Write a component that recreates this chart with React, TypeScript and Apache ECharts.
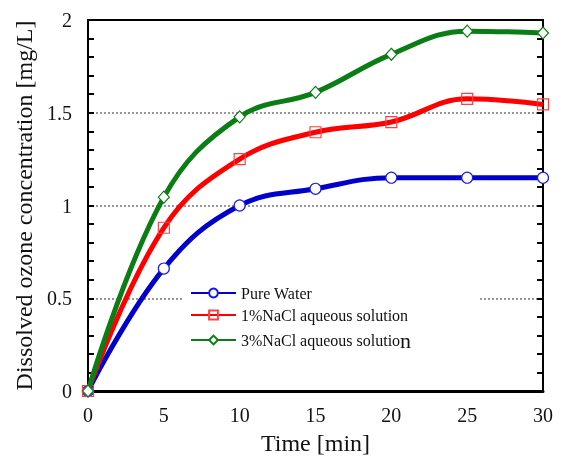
import React, { useEffect, useRef } from "react";
import * as echarts from "echarts";

const times = [0, 5, 10, 15, 20, 25, 30];
const pureWater = [0, 0.66, 1.0, 1.09, 1.15, 1.15, 1.15];
const nacl1 = [0, 0.88, 1.25, 1.395, 1.45, 1.575, 1.545];
const nacl3 = [0, 1.045, 1.478, 1.61, 1.815, 1.94, 1.93];
const seriesNames = ["Pure Water", "1%NaCl aqueous solution", "3%NaCl aqueous solution"];
const yTicks = [0, 0.5, 1, 1.5, 2];

const FONT = "Liberation Serif";

export default function App() {
  const ref = useRef<HTMLDivElement>(null);
  useEffect(() => {
    if (!ref.current) return;
    const chart = echarts.init(ref.current, null, { renderer: "svg" });
    const pairs = (vals: number[]) => times.map((t, i) => [t, vals[i]]);
    const makeY = (pos: string) => ({
      type: "value",
      position: pos,
      min: yTicks[0],
      max: yTicks[yTicks.length - 1],
      interval: 0.5,
      axisLine: { show: true, onZero: false, lineStyle: { color: "#000", width: 2 } },
      axisTick: { show: true, inside: true, length: 6, lineStyle: { color: "#000", width: 2 } },
      minorTick: { show: true, splitNumber: 5, length: 6, lineStyle: { color: "#000", width: 2 } },
    });
    chart.setOption({
      animation: false,
      textStyle: { fontFamily: FONT },
      grid: { left: 88, right: 24, top: 20, bottom: 66, outerBoundsMode: "none" },
      legend: {
        orient: "vertical",
        left: 184,
        top: 281,
        padding: [4, 69, 4, 6],
        backgroundColor: "#fff",
        itemWidth: 45,
        itemHeight: 11,
        itemGap: 6,
        data: seriesNames,
        formatter: (name: string) =>
          name === seriesNames[2] ? "3%NaCl aqueous solutio{n|n}" : name,
        textStyle: {
          fontFamily: FONT,
          fontSize: 16,
          color: "#111",
          rich: { n: { fontFamily: FONT, fontSize: 22, color: "#111" } },
        },
        z: 10,
      },
      xAxis: [
        {
          type: "value",
          position: "bottom",
          min: 0,
          max: 30,
          interval: 5,
          name: "Time [min]",
          nameLocation: "middle",
          nameGap: 40,
          nameTextStyle: { fontFamily: FONT, fontSize: 24, color: "#111" },
          axisLine: { show: true, onZero: false, lineStyle: { color: "#000", width: 3 } },
          axisTick: { show: false },
          splitLine: { show: false },
          axisLabel: { fontFamily: FONT, fontSize: 20, color: "#111", margin: 14 },
        },
        {
          type: "value",
          position: "top",
          min: 0,
          max: 30,
          axisLine: { show: true, onZero: false, lineStyle: { color: "#000", width: 2 } },
          axisTick: { show: false },
          axisLabel: { show: false },
          splitLine: { show: false },
        },
      ],
      yAxis: [
        {
          ...makeY("left"),
          name: "Dissolved ozone concentration [mg/L]",
          nameLocation: "middle",
          nameGap: 50,
          nameTextStyle: { fontFamily: FONT, fontSize: 24, color: "#111" },
          axisLabel: {
            fontFamily: FONT,
            fontSize: 20,
            color: "#111",
            margin: 16,
            formatter: (v: number) => String(v),
          },
          splitLine: { show: true, lineStyle: { color: "#777", width: 1.5, type: [2, 2] } },
        },
        {
          ...makeY("right"),
          axisLabel: { show: false },
          splitLine: { show: false },
        },
      ],
      series: [
        {
          name: seriesNames[0],
          type: "line",
          data: pairs(pureWater),
          smooth: 0.4,
          symbol: "circle",
          symbolSize: 11,
          lineStyle: { color: "#0000cc", width: 5 },
          itemStyle: { color: "#fff", borderColor: "#1a1ae6", borderWidth: 1.2 },
          z: 2,
        },
        {
          name: seriesNames[1],
          type: "line",
          data: pairs(nacl1),
          smooth: 0.4,
          symbol: "rect",
          symbolSize: 11,
          lineStyle: { color: "#ff0000", width: 5 },
          itemStyle: { color: "rgba(255,255,255,0)", borderColor: "#ff4040", borderWidth: 1.2 },
          z: 3,
        },
        {
          name: seriesNames[2],
          type: "line",
          data: pairs(nacl3),
          smooth: 0.4,
          symbol: "diamond",
          symbolSize: [11, 12],
          lineStyle: { color: "#0a7d14", width: 5 },
          itemStyle: { color: "#fff", borderColor: "#0a7d14", borderWidth: 1.2 },
          z: 4,
        },
      ],
    });
    return () => chart.dispose();
  }, []);
  return (
    <div
      ref={ref}
      style={{ width: 567, height: 457, position: "fixed", left: 0, top: 0 }}
    />
  );
}
